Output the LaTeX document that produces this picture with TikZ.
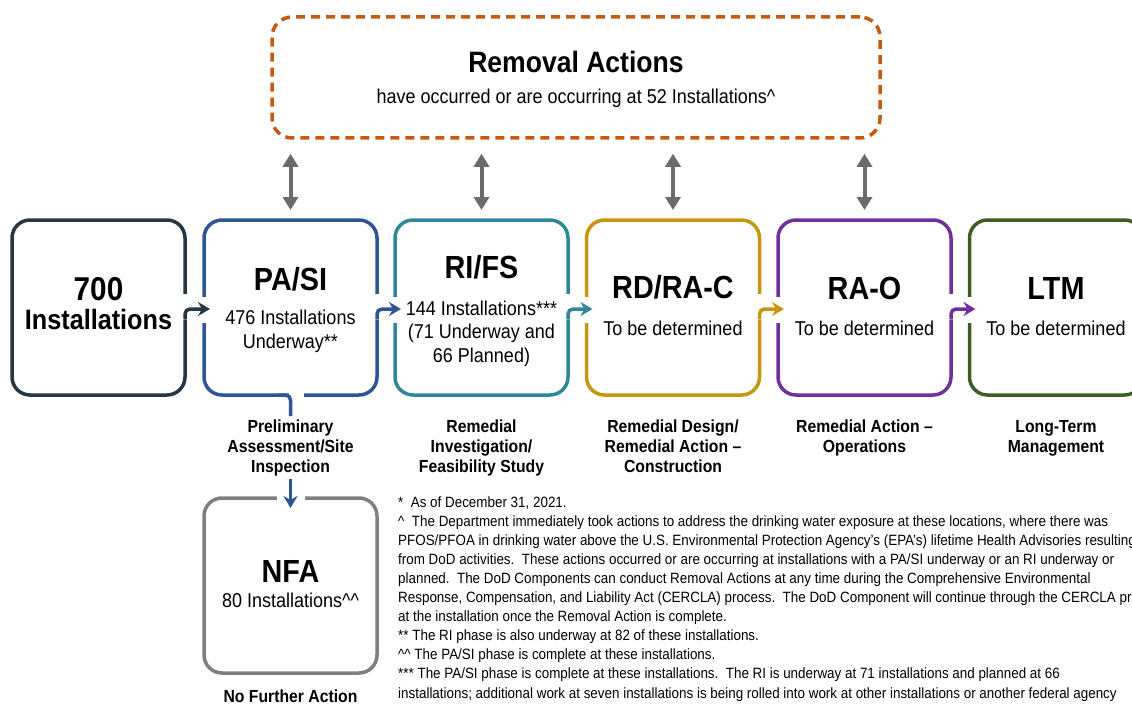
\documentclass[tikz,border=0pt]{standalone}
\usepackage{fontspec}
\setmainfont[FakeStretch=0.9]{Liberation Sans}
\usetikzlibrary{arrows.meta}

\definecolor{navy}{HTML}{243746}
\definecolor{pablue}{HTML}{2F5597}
\definecolor{teal}{HTML}{31879A}
\definecolor{gold}{HTML}{C6960E}
\definecolor{plum}{HTML}{7030A0}
\definecolor{moss}{HTML}{3D5F24}
\definecolor{rust}{HTML}{C55A11}
\definecolor{ash}{HTML}{7F7F7F}
\definecolor{linkgray}{HTML}{6B6B6B}

\begin{document}
\begin{tikzpicture}[x=1pt,y=-1pt,
    stage/.style={draw=#1, line width=3.5pt, rounded corners=18pt, minimum width=173pt, minimum height=175pt, inner sep=0pt, outer sep=0pt},
    notch/.style={fill=white},
    flow/.style={draw=#1, line width=3.5pt, rounded corners=5pt, -{Stealth[length=12pt,width=14pt,inset=4pt]}, shorten >=-6pt},
    link/.style={draw=linkgray, line width=4pt, {Triangle[length=13pt,width=15pt]}-{Triangle[length=13pt,width=15pt]}},
    big/.style={anchor=base, font=\fontsize{32}{36}\selectfont\bfseries},
    sub/.style={anchor=base, align=center, font=\fontsize{20}{23.5}\selectfont},
    phase/.style={anchor=base, align=center, inner sep=0pt, font=\fontsize{17.5}{20}\selectfont\bfseries}]
    \clip (0,0) rectangle (1132,706);

    % removal actions
    \node[draw=rust, line width=3.5pt, dash pattern=on 9pt off 6pt, rounded corners=20pt, minimum width=608pt, minimum height=121pt] (ra) at (576,77.5) {};
    \node[anchor=base, font=\fontsize{29.5}{32}\selectfont\bfseries] (raT) at (576,73) {Removal Actions};
    \node[sub] (raS) at (576,104) {have occurred or are occurring at 52 Installations\textasciicircum};

    % stages
    \node[stage=navy]   (inst) at (98.5,307.5) {};
    \node[stage=pablue] (pasi) at (290.5,307.5) {};
    \node[stage=teal]   (rifs) at (481.5,307.5) {};
    \node[stage=gold]   (rdra) at (673,307.5) {};
    \node[stage=plum]   (rao)  at (864.5,307.5) {};
    \node[stage=moss]   (ltm)  at (1056,307.5) {};
    \node[stage=ash]    (nfa)  at (290.5,585.5) {};

    \node[anchor=base, font=\fontsize{33}{36}\selectfont\bfseries] (instN) at (98.5,300) {700};
    \node[anchor=base, font=\fontsize{28}{30}\selectfont\bfseries] (instT) at (98.5,329) {Installations};
    \node[big] (pasiT) at (290.5,290) {PA/SI};
    \node[sub] (pasiS) at (290.5,348) {476 Installations\\Underway**};
    \node[big] (rifsT) at (481.5,278) {RI/FS};
    \node[sub] (rifsS) at (481.5,362) {144 Installations***\\(71 Underway and\\66 Planned)};
    \node[big] (rdraT) at (673,298) {RD/RA-C};
    \node[sub] (rdraS) at (673,335) {To be determined};
    \node[big] (raoT) at (864.5,299) {RA-O};
    \node[sub] (raoS) at (864.5,335) {To be determined};
    \node[big] (ltmT) at (1056,299) {LTM};
    \node[sub] (ltmS) at (1056,335) {To be determined};
    \node[big] (nfaT) at (290.5,582) {NFA};
    \node[sub] (nfaS) at (290.5,607) {80 Installations\textasciicircum\textasciicircum};

    % phase names
    \node[phase] (pasiL) at (290.5,472) {Preliminary\\Assessment/Site\\Inspection};
    \node[phase] (rifsL) at (481.5,472) {Remedial\\Investigation/\\Feasibility Study};
    \node[phase] (rdraL) at (673,472) {Remedial Design/\\Remedial Action --\\Construction};
    \node[phase] (raoL)  at (864.5,452) {Remedial Action --\\Operations};
    \node[phase] (ltmL)  at (1056,452) {Long-Term\\Management};
    \node[phase] (nfaL)  at (290.5,702) {No Further Action};

    % links to removal actions
    \draw[link, shorten <=14pt, shorten >=10pt] (pasi.north |- ra.south) -- (pasi.north);
    \draw[link, shorten <=14pt, shorten >=10pt] (rifs.north |- ra.south) -- (rifs.north);
    \draw[link, shorten <=14pt, shorten >=10pt] (rdra.north |- ra.south) -- (rdra.north);
    \draw[link, shorten <=14pt, shorten >=10pt] (rao.north |- ra.south) -- (rao.north);

    % flow from stage to stage
    \fill[notch] ([xshift=-3pt,yshift=14pt]inst.east) rectangle ([xshift=3pt,yshift=-12pt]inst.east);
    \fill[notch] ([xshift=-3pt,yshift=11pt]pasi.west) rectangle ([xshift=3pt,yshift=-15pt]pasi.west);
    \draw[flow=navy] ([yshift=-12pt]inst.east) |- ([yshift=-1.5pt]pasi.west);

    \fill[notch] ([xshift=-3pt,yshift=14pt]pasi.east) rectangle ([xshift=3pt,yshift=-12pt]pasi.east);
    \fill[notch] ([xshift=-3pt,yshift=11pt]rifs.west) rectangle ([xshift=3pt,yshift=-15pt]rifs.west);
    \draw[flow=pablue] ([yshift=-12pt]pasi.east) |- ([yshift=-1.5pt]rifs.west);

    \fill[notch] ([xshift=-3pt,yshift=14pt]rifs.east) rectangle ([xshift=3pt,yshift=-12pt]rifs.east);
    \fill[notch] ([xshift=-3pt,yshift=11pt]rdra.west) rectangle ([xshift=3pt,yshift=-15pt]rdra.west);
    \draw[flow=teal] ([yshift=-12pt]rifs.east) |- ([yshift=-1.5pt]rdra.west);

    \fill[notch] ([xshift=-3pt,yshift=14pt]rdra.east) rectangle ([xshift=3pt,yshift=-12pt]rdra.east);
    \fill[notch] ([xshift=-3pt,yshift=11pt]rao.west) rectangle ([xshift=3pt,yshift=-15pt]rao.west);
    \draw[flow=gold] ([yshift=-12pt]rdra.east) |- ([yshift=-1.5pt]rao.west);

    \fill[notch] ([xshift=-3pt,yshift=14pt]rao.east) rectangle ([xshift=3pt,yshift=-12pt]rao.east);
    \fill[notch] ([xshift=-3pt,yshift=11pt]ltm.west) rectangle ([xshift=3pt,yshift=-15pt]ltm.west);
    \draw[flow=plum] ([yshift=-12pt]rao.east) |- ([yshift=-1.5pt]ltm.west);

    % pa/si down to nfa
    \fill[notch] ([xshift=-2pt,yshift=3pt]pasi.south) rectangle ([xshift=13pt,yshift=-3pt]pasi.south);
    \draw[draw=pablue, line width=3.5pt, rounded corners=5pt, shorten >=3pt] ([xshift=-12pt]pasi.south) -| (pasiL.north);
    \fill[notch] ([xshift=-14pt,yshift=3pt]nfa.north) rectangle ([xshift=14pt,yshift=-3pt]nfa.north);
    \draw[flow=pablue, shorten <=3pt, shorten >=-10pt] (pasiL.south) -- (nfa.north);

    % footnotes
    \node[anchor=base west, align=left, inner sep=0pt, font=\fontsize{14.9}{19.1}\selectfont] (notes) at (398,698) {%
      *\ \ As of December 31, 2021.\\
      \textasciicircum\ \ The Department immediately took actions to address the drinking water exposure at these locations, where there was\\
      PFOS/PFOA in drinking water above the U.S. Environmental Protection Agency’s (EPA’s) lifetime Health Advisories resulting\\
      from DoD activities.\ \ These actions occurred or are occurring at installations with a PA/SI underway or an RI underway or\\
      planned.\ \ The DoD Components can conduct Removal Actions at any time during the Comprehensive Environmental\\
      Response, Compensation, and Liability Act (CERCLA) process.\ \ The DoD Component will continue through the CERCLA process\\
      at the installation once the Removal Action is complete.\\
      ** The RI phase is also underway at 82 of these installations.\\
      \textasciicircum\textasciicircum\ The PA/SI phase is complete at these installations.\\
      *** The PA/SI phase is complete at these installations.\ \ The RI is underway at 71 installations and planned at 66\\
      installations; additional work at seven installations is being rolled into work at other installations or another federal agency};
\end{tikzpicture}
\end{document}
